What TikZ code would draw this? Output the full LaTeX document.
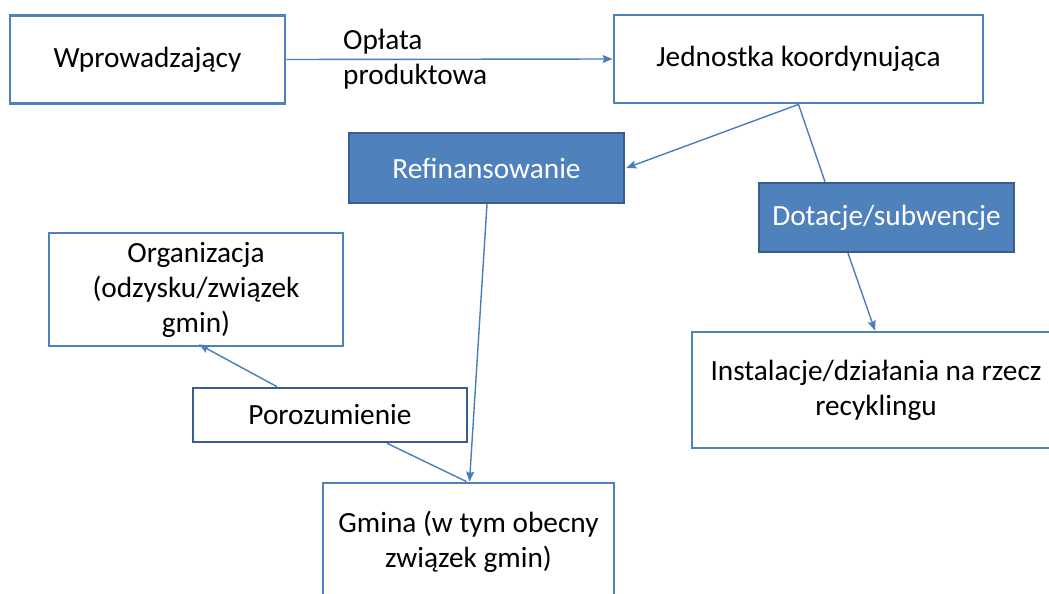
\documentclass[tikz,border=0pt]{standalone}
\usepackage{fontspec}
\setmainfont{Carlito}
\usetikzlibrary{arrows.meta}
\definecolor{boxline}{HTML}{4F81BD}
\definecolor{darkline}{HTML}{385D8A}
\definecolor{conn}{HTML}{4A7EBB}
\tikzset{
  txt/.style={font=\fontsize{29.3}{35}\selectfont},
  wbox/.style={txt, draw=boxline, line width=2.8pt, fill=white, inner sep=0pt, align=center},
  bbox/.style={txt, draw=darkline, line width=2.4pt, fill=boxline, text=white, inner sep=0pt, align=center},
  dbox/.style={txt, draw=darkline, line width=2.6pt, fill=white, inner sep=0pt, align=center},
  conn/.style={draw=conn, line width=1.4pt},
  arr/.style={conn, -{Stealth[length=10pt,width=8pt,inset=1.5pt]}},
}
\begin{document}
\begin{tikzpicture}[x=1pt,y=-1pt]
\useasboundingbox (0,0) rectangle (1049,594);
\clip (0,0) rectangle (1049,594);
\fill[white] (0,0) rectangle (1049,594);

\node[wbox, minimum width=275pt, minimum height=88pt] (w) at (147.5,59.5) {Wprowadzający};
\node[wbox, minimum width=369pt, minimum height=88pt] (j) at (798.5,59) {Jednostka koordynująca};
\node[txt, anchor=west, inner sep=0pt, align=left] (lbl) at (343,59.5) {Opłata\\produktowa};
\node[bbox, minimum width=275pt, minimum height=70pt] (r) at (486.5,168) {Refinansowanie};
\node[bbox, minimum width=255pt, minimum height=69pt] (d) at (886.5,217.5) {Dotacje/subwencje};
\node[wbox, minimum width=368pt, minimum height=116pt] (i) at (876,390) {Instalacje/działania na rzecz\\recyklingu};
\node[wbox, minimum width=294pt, minimum height=113pt] (o) at (196,289.5) {Organizacja\\(odzysku/związek\\gmin)};
\node[dbox, minimum width=274pt, minimum height=54pt] (p) at (330,415) {Porozumienie};
\node[wbox, minimum width=291pt, minimum height=118pt] (g) at (468.5,542) {Gmina (w tym obecny\\związek gmin)};

\draw[arr] (w.east) -- (j.west);
\draw[arr] (j.south) -- ([xshift=1pt]r.east);
\draw[conn] (j.south) -- ([xshift=-61.5pt]d.north);
\draw[arr] ([xshift=-38.5pt]d.south) -- ([xshift=-1pt]i.north);
\draw[arr] ([xshift=0.5pt]r.south) -- ([xshift=1pt]g.north);
\draw[conn] ([xshift=57pt]p.south) -- ([xshift=-2pt]g.north);
\draw[arr] ([xshift=-53pt]p.north) -- ([xshift=3pt,yshift=3pt]o.south);
\end{tikzpicture}
\end{document}
